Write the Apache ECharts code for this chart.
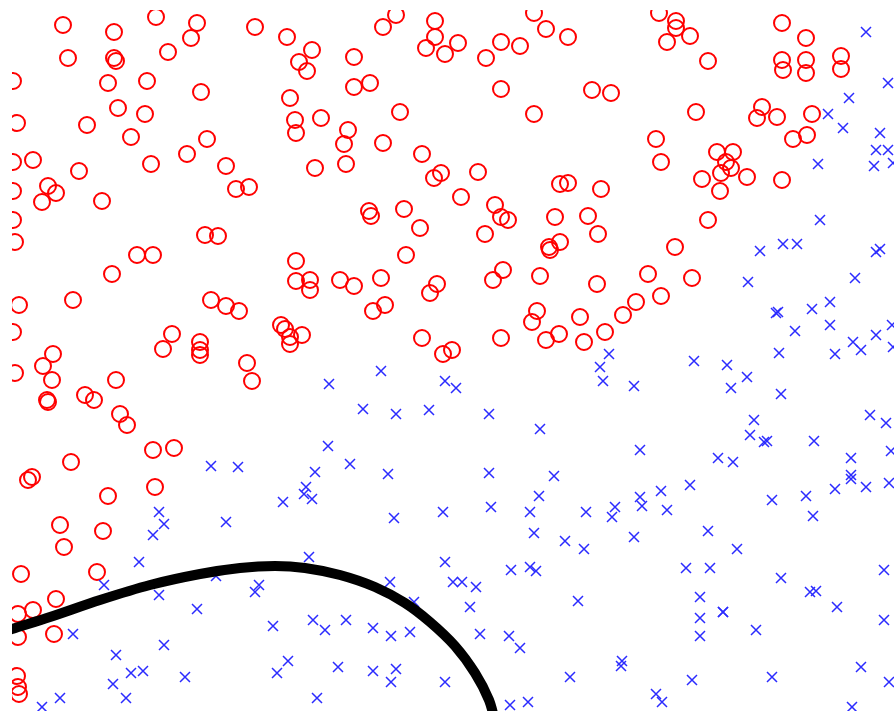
<!DOCTYPE html>
<html>
<head>
<meta charset="utf-8">
<script src="https://cdn.jsdelivr.net/npm/echarts@6/dist/echarts.min.js"></script>
<style>
  html, body { margin: 0; padding: 0; background: #fff; }
  #frame { position: absolute; left: 0; top: 0; width: 894px; height: 711px; background: #fff; }
  #chart { position: absolute; left: 12px; top: 10px; width: 882px; height: 701px; }
</style>
</head>
<body>
<div id="frame"><div id="chart"></div></div>
<script>
// Class A samples (red rings): [feature1, feature2]
const classA = [
  [63,25],[114,32],[156,17],[197,23],[191,38],[255,27],[287,37],[68,58],[114,58],[116,61],
  [168,52],[299,62],[13,81],[108,83],[147,81],[201,92],[290,98],[118,108],[145,114],[17,123],
  [87,125],[295,120],[296,133],[131,137],[207,139],[13,162],[33,160],[151,164],[187,154],[226,166],
  [79,171],[48,186],[56,193],[42,202],[102,201],[236,189],[249,187],[13,191],[13,220],[205,235],
  [218,236],[15,242],
  [396,15],[383,27],[435,21],[435,37],[426,48],[445,54],[458,43],[534,13],[546,29],[568,37],
  [501,42],[520,46],[486,58],[312,50],[307,71],[354,57],[354,87],[370,83],[501,89],[592,90],
  [400,112],[534,114],[321,118],[348,130],[344,144],[383,143],[422,154],[315,168],[346,164],[434,178],
  [441,173],[478,172],[560,184],[568,183],[601,189],[461,197],[495,205],[501,217],[508,220],[369,211],
  [371,216],[404,209],[420,228],[485,234],[555,217],[588,216],[598,234],
  [659,13],[676,21],[676,28],[690,36],[667,42],[708,61],[782,23],[806,38],[782,60],[783,70],
  [806,60],[806,73],[841,56],[841,69],[611,93],[696,112],[762,107],[757,118],[777,117],[812,114],
  [656,139],[661,162],[717,152],[733,152],[726,162],[731,168],[702,179],[721,173],[720,191],[747,177],
  [782,180],[793,139],[807,135],[708,220],
  [137,255],[153,255],[112,274],[73,300],[19,305],[13,332],[211,300],[226,306],[239,311],[296,261],
  [296,281],[172,334],[163,349],[200,342],[200,350],[200,355],[281,325],[285,329],[290,337],[290,344],
  [53,354],[43,366],[52,380],[15,373],[47,400],[48,402],[116,380],[247,363],[252,381],[85,395],
  [94,400],[120,414],[127,425],[153,450],[174,448],[71,462],[28,480],[32,477],
  [310,280],[310,290],[340,280],[354,286],[381,278],[406,255],[373,311],[385,305],[302,335],[422,338],
  [437,284],[430,293],[443,354],[452,350],[493,280],[503,270],[540,276],[549,247],[550,250],[560,242],
  [501,338],[537,311],[532,322],[546,340],[559,334],[580,317],[584,342],[597,284],
  [675,247],[648,274],[692,278],[661,296],[636,302],[623,315],[605,332],
  [155,487],[108,496],[60,525],[103,531],[64,547],[21,574],[97,572],[56,599],[33,610],[18,614],
  [18,637],[54,634],[17,676],[18,687],[19,694]
];

// Class B samples (blue crosses): [feature1, feature2]
const classB = [
  [866,32],[888,83],[849,98],[828,114],[843,128],[880,133],[876,150],[888,150],[874,166],[818,164],
  [820,220],[893,163],
  [760,251],[783,244],[797,244],[876,252],[880,249],[748,282],[855,278],[776,313],[778,312],[812,309],
  [830,302],[830,325],[795,331],[892,325],[779,353],[835,354],[853,342],[861,350],[876,335],[893,347],
  [609,354],[600,367],[603,381],[634,386],[694,361],[727,365],[747,377],[731,388],[781,394],[754,420],
  [750,435],[764,442],[767,441],[814,441],[870,415],[886,423],[891,451],[640,450],[718,458],[733,462],
  [851,458],[851,475],
  [381,371],[329,384],[445,381],[456,388],[363,409],[396,414],[429,410],[489,414],[540,429],[328,446],
  [350,464],[315,472],[388,474],[489,473],[554,476],
  [211,466],[238,467],[159,512],[164,524],[153,535],[226,522],[283,502],[139,562],[104,585],[159,595],
  [197,609],[255,592],[259,585],[273,626],[73,634],[164,645],[116,655],[131,673],[143,671],[185,677],
  [113,684],[126,698],[60,698],[42,707],[288,661],[277,673],[216,576],
  [306,487],[304,494],[312,499],[394,518],[443,512],[491,507],[530,512],[539,496],[586,512],[534,533],
  [565,541],[584,549],[309,557],[445,562],[390,582],[453,582],[462,582],[476,587],[414,602],[470,607],
  [511,570],[530,567],[536,571],[578,601],[313,620],[325,630],[346,620],[373,628],[391,636],[410,632],
  [480,634],[509,636],[520,648],[338,667],[373,671],[396,669],[391,682],[445,682],[570,677],[317,698],
  [510,705],[528,702],
  [690,485],[661,491],[640,497],[642,506],[615,507],[612,517],[667,510],[634,537],[708,531],[737,549],
  [686,568],[710,568],[772,500],[806,496],[813,516],[835,489],[851,479],[866,487],[889,483],[781,578],
  [810,592],[816,591],[837,607],[884,570],[884,620],[700,597],[700,618],[700,636],[723,612],[723,612],
  [756,630],[622,661],[621,666],[692,680],[772,677],[861,667],[889,682],[656,694],[662,702],[852,707]
];

// Decision boundary between the two classes
const boundary = [
  [0,633],[12,629],[50,617],[100,600],[150,585],[200,574],[240,568],[275,566],[305,568],
  [340,575],[375,587],[405,603],[430,622],[455,646],[475,673],[489,700],[495,722]
];

const chart = echarts.init(document.getElementById('chart'), null, { renderer: 'canvas' });

chart.setOption({
  animation: false,
  backgroundColor: '#ffffff',
  grid: { left: 0, right: 0, top: 0, bottom: 0, containLabel: false },
  xAxis: {
    type: 'value', min: 12, max: 894,
    show: false, splitLine: { show: false }
  },
  yAxis: {
    type: 'value', min: 10, max: 711, inverse: true,
    show: false, splitLine: { show: false }
  },
  series: [
    {
      name: 'Class A',
      type: 'scatter',
      data: classA,
      symbol: 'circle',
      symbolSize: 16,
      clip: false,
      itemStyle: { color: 'rgba(0,0,0,0)', borderColor: '#ff0000', borderWidth: 2, opacity: 1 },
      emphasis: { disabled: true },
      z: 2
    },
    {
      name: 'Class B',
      type: 'scatter',
      data: classB,
      symbol: 'path://M0,0L1,1M1,0L0,1',
      symbolSize: 10,
      clip: false,
      itemStyle: { color: 'rgba(0,0,0,0)', borderColor: '#2b2bff', borderWidth: 1.5, opacity: 1 },
      emphasis: { disabled: true },
      z: 3
    },
    {
      name: 'Boundary',
      type: 'line',
      data: boundary,
      smooth: 0.3,
      showSymbol: false,
      symbol: 'none',
      clip: true,
      lineStyle: { color: '#000000', width: 10 },
      emphasis: { disabled: true },
      z: 4
    }
  ]
});
</script>
</body>
</html>
